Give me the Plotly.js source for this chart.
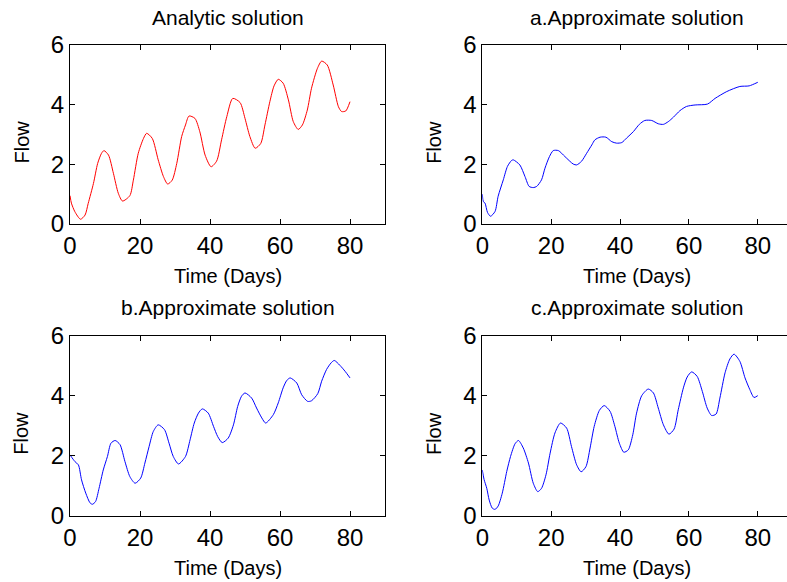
<!DOCTYPE html>
<html>
<head>
<meta charset="utf-8">
<script src="https://cdn.plot.ly/plotly-3.0.1.min.js"></script>
<style>
  html, body { margin: 0; padding: 0; overflow: hidden; background: #fff; }
  #chart { width: 800px; height: 582px; }
</style>
</head>
<body>
<div id="chart"></div>
<script>
// Flow over time: exact solution and three approximations
const analyticDays = [0, 0.4, 1.4, 3.0, 4.3, 5.2, 6.7, 7.9, 9.0, 9.7, 11.0, 12.4, 13.8, 15.0, 17.1, 18.1, 19.5, 21.0, 21.9, 23.5, 25.2, 26.7, 27.9, 29.2, 30.5, 31.9, 33.0, 34.0, 35.7, 37.1, 38.6, 40.3, 41.9, 43.3, 44.8, 46.5, 48.6, 50.0, 51.4, 52.9, 54.5, 55.7, 57.1, 58.3, 59.5, 60.9, 62.4, 63.8, 65.2, 66.4, 67.8, 69.0, 70.7, 71.9, 73.5, 75.2, 76.7, 77.6, 78.8, 80];
const analyticFlow = [0.95, 0.70, 0.41, 0.16, 0.30, 0.69, 1.36, 2.03, 2.37, 2.46, 2.31, 1.70, 1.03, 0.77, 0.95, 1.47, 2.37, 2.87, 3.04, 2.87, 2.15, 1.59, 1.34, 1.47, 2.03, 2.93, 3.32, 3.62, 3.54, 3.09, 2.31, 1.92, 2.11, 2.82, 3.60, 4.21, 4.07, 3.54, 2.93, 2.54, 2.70, 3.32, 4.10, 4.63, 4.85, 4.72, 4.16, 3.43, 3.17, 3.32, 3.82, 4.55, 5.22, 5.46, 5.33, 4.66, 3.93, 3.77, 3.79, 4.10];

const approxADays = [0, 0.3, 0.8, 1.5, 2.4, 3.7, 4.6, 6.1, 7.3, 8.5, 9.0, 10.9, 12.4, 13.6, 14.8, 15.8, 17.2, 18.2, 19.5, 20.6, 22.1, 24.0, 26.4, 27.4, 28.8, 30.3, 31.8, 32.7, 34.2, 35.9, 37.6, 39.0, 40.5, 41.9, 43.9, 45.6, 47.2, 49.2, 51.1, 52.6, 54.0, 55.5, 57.4, 59.3, 61.8, 65.4, 67.6, 71.0, 74.8, 77.5, 80];
const approxAFlow = [1.0, 0.75, 0.70, 0.39, 0.26, 0.42, 0.93, 1.48, 1.93, 2.13, 2.15, 1.98, 1.59, 1.26, 1.22, 1.26, 1.48, 1.87, 2.26, 2.46, 2.46, 2.26, 2.01, 1.98, 2.10, 2.37, 2.65, 2.82, 2.91, 2.91, 2.76, 2.71, 2.73, 2.88, 3.10, 3.34, 3.47, 3.47, 3.36, 3.34, 3.43, 3.58, 3.80, 3.94, 3.99, 4.02, 4.21, 4.44, 4.61, 4.63, 4.75];

const approxBDays = [0, 1.4, 2.4, 3.3, 4.5, 5.7, 6.4, 7.3, 8.3, 9.5, 10.7, 11.7, 12.9, 14.3, 15.7, 17.1, 18.6, 20.2, 21.4, 22.6, 23.8, 25.2, 27.0, 28.3, 29.5, 31.0, 33.0, 34.3, 35.5, 36.7, 37.8, 39.5, 41.0, 42.2, 43.5, 45.2, 46.7, 47.9, 49.0, 50.0, 51.9, 53.3, 54.8, 55.9, 58.1, 59.5, 60.9, 61.9, 62.9, 64.8, 66.2, 67.9, 69.0, 70.8, 71.9, 73.3, 74.6, 75.5, 77.1, 78.6, 80];
const approxBFlow = [2.03, 1.81, 1.70, 1.20, 0.76, 0.44, 0.39, 0.48, 0.92, 1.53, 1.98, 2.42, 2.51, 2.37, 1.81, 1.31, 1.09, 1.26, 1.76, 2.31, 2.81, 3.03, 2.87, 2.42, 1.98, 1.73, 1.98, 2.53, 3.09, 3.42, 3.56, 3.42, 2.98, 2.64, 2.44, 2.59, 3.03, 3.64, 3.98, 4.09, 3.92, 3.59, 3.26, 3.09, 3.37, 3.76, 4.26, 4.50, 4.59, 4.42, 4.03, 3.81, 3.83, 4.07, 4.48, 4.87, 5.09, 5.17, 5.01, 4.81, 4.59];

const approxCDays = [0, 0.5, 1.3, 2.0, 2.9, 3.7, 4.6, 5.8, 7.1, 8.2, 9.5, 10.5, 11.9, 13.4, 14.8, 16.1, 17.2, 18.5, 19.7, 21.1, 22.7, 24.5, 25.9, 27.4, 28.7, 30.1, 31.3, 32.5, 34.0, 35.4, 37.1, 38.5, 39.8, 41.1, 42.4, 43.7, 44.8, 46.3, 48.2, 49.7, 51.1, 52.6, 54.2, 55.7, 56.9, 58.4, 59.5, 60.8, 62.4, 63.9, 65.3, 66.6, 67.9, 69.0, 70.5, 71.9, 73.1, 74.8, 76.3, 77.7, 78.9, 80];
const approxCFlow = [1.53, 1.22, 0.92, 0.53, 0.26, 0.22, 0.33, 0.76, 1.48, 1.98, 2.40, 2.51, 2.26, 1.76, 1.09, 0.81, 0.92, 1.37, 2.09, 2.76, 3.09, 2.92, 2.31, 1.70, 1.47, 1.64, 2.26, 2.98, 3.51, 3.67, 3.48, 2.98, 2.42, 2.12, 2.20, 2.70, 3.42, 4.00, 4.22, 4.09, 3.59, 3.03, 2.72, 2.89, 3.53, 4.26, 4.62, 4.79, 4.64, 4.14, 3.59, 3.34, 3.39, 3.92, 4.76, 5.22, 5.38, 5.14, 4.59, 4.20, 3.94, 4.00];

const panelTitles = ['Analytic solution', 'a.Approximate solution', 'b.Approximate solution', 'c.Approximate solution'];
const xTicks = [0, 20, 40, 60, 80];
const yTicks = [0, 2, 4, 6];
const xLabel = 'Time (Days)';
const yLabel = 'Flow';

const W = 800, H = 582;
const FONT = 'Liberation Sans, Arial, Helvetica, sans-serif';

// Axes boxes in pixels: [left, right, top, bottom]
const boxes = [
  [70, 385, 45, 224],
  [482.3, 792.2, 45, 224],
  [70, 385, 335.5, 516],
  [482.3, 792.2, 335.5, 516]
];

const series = [
  {x: analyticDays, y: analyticFlow, color: '#ff0000'},
  {x: approxADays, y: approxAFlow, color: '#0000ff'},
  {x: approxBDays, y: approxBFlow, color: '#0000ff'},
  {x: approxCDays, y: approxCFlow, color: '#0000ff'}
];

const traces = [];
const layout = {
  width: W, height: H,
  margin: {l: 0, r: 0, t: 0, b: 0},
  paper_bgcolor: '#ffffff',
  plot_bgcolor: '#ffffff',
  showlegend: false,
  annotations: []
};

const axisStyle = {
  showline: true, linecolor: '#000', linewidth: 1,
  mirror: 'ticks', ticks: 'inside', ticklen: 5, tickcolor: '#000', tickwidth: 1,
  showgrid: false, zeroline: false,
  tickfont: {family: FONT, size: 24, color: '#000'}
};

boxes.forEach((b, i) => {
  const n = i === 0 ? '' : String(i + 1);
  traces.push({
    x: series[i].x, y: series[i].y,
    type: 'scatter', mode: 'lines',
    line: {color: series[i].color, width: 1, shape: 'spline', smoothing: 0.7},
    xaxis: 'x' + n, yaxis: 'y' + n,
    hoverinfo: 'skip'
  });
  layout['xaxis' + n] = Object.assign({}, axisStyle, {
    domain: [b[0] / W, b[1] / W], range: [0, 90],
    tickvals: xTicks, ticktext: xTicks.map(String),
    anchor: 'y' + n
  });
  layout['yaxis' + n] = Object.assign({}, axisStyle, {
    domain: [1 - b[3] / H, 1 - b[2] / H], range: [0, 6],
    tickvals: yTicks, ticktext: yTicks.map(String),
    anchor: 'x' + n
  });
  const cx = (b[0] + b[1]) / 2;
  // panel title
  layout.annotations.push({
    text: panelTitles[i], xref: 'paper', yref: 'paper',
    x: cx / W, y: 1 - (b[2] - 28) / H, xanchor: 'center', yanchor: 'middle',
    showarrow: false, font: {family: FONT, size: 21, color: '#000'}
  });
  // x axis label
  layout.annotations.push({
    text: xLabel, xref: 'paper', yref: 'paper',
    x: cx / W, y: 1 - (b[3] + 52) / H, xanchor: 'center', yanchor: 'middle',
    showarrow: false, font: {family: FONT, size: 20, color: '#000'}
  });
  // y axis label
  layout.annotations.push({
    text: yLabel, xref: 'paper', yref: 'paper', textangle: -90,
    x: (b[0] - 49) / W, y: 1 - ((b[2] + b[3]) / 2 + 8) / H,
    xanchor: 'center', yanchor: 'middle',
    showarrow: false, font: {family: FONT, size: 20, color: '#000'}
  });
});

Plotly.newPlot('chart', traces, layout, {staticPlot: true, displayModeBar: false});
</script>
</body>
</html>
